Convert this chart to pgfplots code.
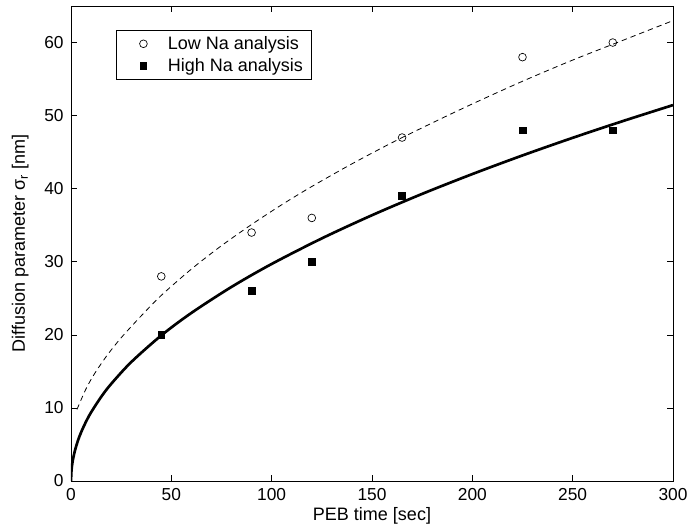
\documentclass[border=0pt]{standalone}
\usepackage{pgfplots}
\pgfplotsset{compat=1.18}
\usepackage{fontspec}
\setmainfont{Liberation Sans}
\begin{document}
\fontsize{13}{15}\selectfont
\begin{tikzpicture}
\useasboundingbox (-53.25pt,-35.25pt) rectangle (464.25pt,360.75pt);
\begin{axis}[
  at={(0,0)}, anchor=south west,
  scale only axis,
  width=451.5pt, height=356.25pt,
  xmin=0, xmax=300, ymin=0, ymax=65,
  xtick={0,50,100,150,200,250,300},
  ytick={0,10,20,30,40,50,60},
  tick align=inside,
  major tick length=4.5pt,
  axis line style={line width=0.6pt},
  every tick/.style={line width=0.5pt, black},
  /pgf/number format/assume math mode=true,
  ticklabel style={font=\fontsize{13}{15}\selectfont},
  xticklabel style={yshift=-1pt},
  yticklabel style={xshift=-1pt},
  label style={font=\fontsize{13.5}{15}\selectfont},
  xlabel={PEB time [sec]},
  ylabel={Diffusion parameter σ\textsubscript{r} [nm]},
  xlabel style={at={(axis description cs:0.5,-0.0735)}, anchor=center},
  ylabel style={at={(axis description cs:-0.0842,0.5)}, anchor=center},
  legend style={at={(0.0747,0.949)}, anchor=north west, draw=black, line width=0.6pt,
    font=\fontsize{13.5}{15}\selectfont, inner xsep=4pt, inner ysep=2pt, row sep=1pt},
  legend cell align=left,
  legend image code/.code={\path (-16pt,0pt) (16pt,0pt); \draw[#1] plot coordinates {(0pt,0pt)};},
  clip=true,
]
\addplot[only marks, mark=o, mark size=2.9pt, black, line width=0.5pt] coordinates {
(45,28) (90,34) (120,36) (165,47) (225,58) (270,60)};
\addlegendentry{Low Na analysis\hspace{6pt}}
\addplot[only marks, mark=square*, mark size=2.5pt, black] coordinates {
(45,20) (90,26) (120,30) (165,39) (225,48) (270,48)};
\addlegendentry{High Na analysis\hspace{6pt}}
\addplot[black, line width=0.6pt, dash pattern=on 4pt off 3pt, smooth, forget plot] coordinates {
(3,9.8) (5,11.1) (8,12.9) (12,14.8) (18,17.2) (25,19.6) (35,22.6) (45,25.4) (60,29.0) (75,32.2) (90,35.1) (105,37.8) (120,40.3) (140,43.4) (160,46.3) (180,49.0) (200,51.6) (225,54.7) (250,57.6) (275,60.3) (300,63.0)};
\addplot[black, line width=2pt, smooth, forget plot] coordinates {
(0,0) (0.25,1.49) (0.6,2.30) (1,2.97) (2,4.20) (3.5,5.56) (5,6.64) (7.5,8.13) (10,9.39) (15,11.50) (20,13.28) (30,16.27) (45,19.92) (60,23.0) (80,26.56) (100,29.7) (125,33.2) (150,36.37) (175,39.29) (200,42.0) (225,44.55) (250,46.96) (275,49.25) (300,51.44)};
\end{axis}
\end{tikzpicture}
\end{document}
